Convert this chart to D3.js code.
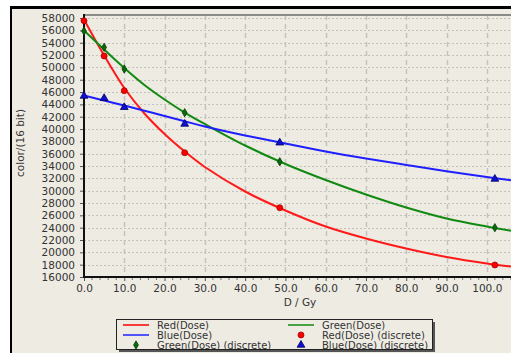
<!DOCTYPE html>
<html>
<head>
<meta charset="utf-8">
<script src="https://cdn.jsdelivr.net/npm/d3@7"></script>
<style>
  html, body { margin: 0; padding: 0; background: #fff; }
  svg { display: block; }
  .tick-label { font-family: "DejaVu Sans", sans-serif; font-size: 10.5px; fill: #333; }
  .legend-text { font-family: "DejaVu Sans", sans-serif; font-size: 10px; fill: #333; }
</style>
</head>
<body>
<div id="chart"></div>
<script>
// curve samples (dose in Gy, value in 16 bit counts)
const curveDose = [0, 5, 10, 15, 20, 25, 30, 40, 50, 60, 70, 80, 90, 100, 106];
const redCurve = [57770, 51930, 46660, 42520, 39200, 36360, 33840, 29870, 26790, 24190, 22250, 20620, 19240, 18190, 17700];
const greenCurve = [55980, 52900, 49900, 47140, 44790, 42680, 40820, 37330, 34330, 31730, 29380, 27270, 25490, 24190, 23510];
const blueCurve = [45440, 44630, 43820, 42970, 42120, 41260, 40410, 38950, 37650, 36360, 35220, 34170, 33150, 32220, 31690];

// measured points
const pointDose = [0, 5, 10, 25, 48.6, 102];
const redPoints = [57570, 51850, 46220, 36160, 27240, 17950];
const greenPoints = [55900, 53260, 49740, 42650, 34700, 24000];
const bluePoints = [45360, 44990, 43530, 40820, 37780, 31900];

const yTicks = d3.range(16000, 58001, 2000);
const xTicks = d3.range(0, 101, 10);

const legendItems = [
    { label: "Red(Dose)", color: "#ff0000", kind: "line" },
    { label: "Green(Dose)", color: "#118a11", kind: "line" },
    { label: "Blue(Dose)", color: "#2020ff", kind: "line" },
    { label: "Red(Dose) (discrete)", color: "#ff0000", kind: "circle" },
    { label: "Green(Dose) (discrete)", color: "#0a6a0a", kind: "diamond" },
    { label: "Blue(Dose) (discrete)", color: "#1010d0", kind: "triangle" }
];

const W = 511, H = 353;
const svg = d3.select("#chart").append("svg").attr("width", W).attr("height", H);

// panel background and frame
svg.append("rect").attr("x", 0).attr("y", 0).attr("width", W).attr("height", H).attr("fill", "#fff");
svg.append("rect").attr("x", 11).attr("y", 8).attr("width", W - 11).attr("height", H - 8).attr("fill", "#eeebe3");
svg.append("line").attr("x1", 10).attr("x2", W).attr("y1", 7.5).attr("y2", 7.5).attr("stroke", "#000").attr("stroke-width", 3);
svg.append("line").attr("x1", 11).attr("x2", 11).attr("y1", 6).attr("y2", H).attr("stroke", "#000").attr("stroke-width", 2);

const x = d3.scaleLinear().domain([0, 107.5]).range([84, 517]);
const y = d3.scaleLinear().domain([16000, 58500]).range([277, 15]);

// grid
const grid = svg.append("g");
grid.selectAll(".hg").data(yTicks).enter().append("line")
    .attr("x1", 84).attr("x2", W)
    .attr("y1", d => Math.round(y(d)) + 0.5).attr("y2", d => Math.round(y(d)) + 0.5)
    .attr("stroke", "#c4c2bc").attr("stroke-dasharray", "2,2");
grid.selectAll(".vg").data(xTicks.slice(1)).enter().append("line")
    .attr("x1", d => Math.round(x(d)) + 0.5).attr("x2", d => Math.round(x(d)) + 0.5)
    .attr("y1", 15).attr("y2", 277)
    .attr("stroke", "#c4c2bc").attr("stroke-width", 1.5).attr("stroke-dasharray", "5,4");

// plot top border
svg.append("line").attr("x1", 84).attr("x2", W).attr("y1", 15).attr("y2", 15).attr("stroke", "#8a8a88").attr("stroke-width", 2);

// axes
const yAxis = svg.append("g").attr("transform", "translate(84,0)")
    .call(d3.axisLeft(y).tickValues(yTicks).tickFormat(d3.format("d")).tickSize(4).tickPadding(5));
const xAxis = svg.append("g").attr("transform", "translate(0,277)")
    .call(d3.axisBottom(x).tickValues(xTicks).tickFormat(d3.format(".1f")).tickSize(4).tickPadding(4));
[yAxis, xAxis].forEach(a => {
    a.select(".domain").remove();
    a.selectAll("text").attr("class", "tick-label").attr("font-family", null).attr("font-size", null);
    a.selectAll(".tick line").attr("stroke", "#555");
});
// minor ticks on x
svg.append("g").selectAll("line").data(d3.range(2, 107, 2).filter(d => d % 10 !== 0)).enter().append("line")
    .attr("x1", d => x(d)).attr("x2", d => x(d)).attr("y1", 277).attr("y2", 280)
    .attr("stroke", "#777");

svg.append("line").attr("x1", 84).attr("x2", 84).attr("y1", 14).attr("y2", 278).attr("stroke", "#111").attr("stroke-width", 2);
svg.append("line").attr("x1", 83).attr("x2", W).attr("y1", 277).attr("y2", 277).attr("stroke", "#111").attr("stroke-width", 2);

// axis titles
svg.append("text").attr("class", "tick-label").attr("x", 300).attr("y", 306)
    .attr("text-anchor", "middle").text("D / Gy");
svg.append("text").attr("class", "tick-label")
    .attr("transform", "translate(24,143) rotate(-90)")
    .attr("text-anchor", "middle").text("color/(16 bit)");

// curves
const plot = svg.append("g");
const line = d3.line().x(d => x(d[0])).y(d => y(d[1])).curve(d3.curveCatmullRom.alpha(0.5));
[[redCurve, "#ff1a1a"], [greenCurve, "#118a11"], [blueCurve, "#2020ff"]].forEach(([vals, col]) => {
    plot.append("path").datum(curveDose.map((d, i) => [d, vals[i]]))
        .attr("d", line).attr("fill", "none").attr("stroke", col).attr("stroke-width", 2);
});

// discrete markers
const sym = {
    circle: d3.symbol().type(d3.symbolCircle).size(28),
    diamond: d3.symbol().type(d3.symbolDiamond).size(20),
    triangle: d3.symbol().type(d3.symbolTriangle).size(26)
};
const markerStyle = {
    circle: { fill: "#ff0000", stroke: "#a00000" },
    diamond: { fill: "#0a6a0a", stroke: "#063f06" },
    triangle: { fill: "#1010d0", stroke: "#000060" }
};
[[greenPoints, "diamond"], [bluePoints, "triangle"], [redPoints, "circle"]].forEach(([vals, kind]) => {
    plot.selectAll(null).data(pointDose.map((d, i) => [d, vals[i]])).enter().append("path")
        .attr("d", sym[kind])
        .attr("transform", d => `translate(${x(d[0])},${y(d[1])})`)
        .attr("fill", markerStyle[kind].fill).attr("stroke", markerStyle[kind].stroke).attr("stroke-width", 0.8);
});

// legend
const lg = svg.append("g");
lg.append("rect").attr("x", 119).attr("y", 322).attr("width", 316).attr("height", 30).attr("fill", "#555");
lg.append("rect").attr("x", 116.5).attr("y", 319.5).attr("width", 316).attr("height", 30)
    .attr("fill", "#eeebe3").attr("stroke", "#222").attr("stroke-width", 1);
const colX = [123, 288];
const rowY = [325, 335, 345];
legendItems.forEach((it, i) => {
    const cx = colX[i % 2], cy = rowY[Math.floor(i / 2)];
    if (it.kind === "line") {
        lg.append("line").attr("x1", cx).attr("x2", cx + 26).attr("y1", cy).attr("y2", cy)
            .attr("stroke", it.color).attr("stroke-width", 1.5);
    } else {
        lg.append("path").attr("d", sym[it.kind])
            .attr("transform", `translate(${cx + 13},${cy})`)
            .attr("fill", markerStyle[it.kind].fill).attr("stroke", markerStyle[it.kind].stroke).attr("stroke-width", 0.8);
    }
    lg.append("text").attr("class", "legend-text").attr("x", cx + 34).attr("y", cy + 3.5).text(it.label);
});
</script>
</body>
</html>
